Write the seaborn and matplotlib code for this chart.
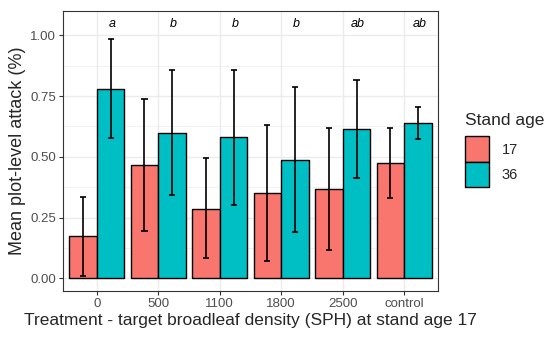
import numpy as np
import pandas as pd
import matplotlib
matplotlib.use("Agg")
import matplotlib.pyplot as plt
import matplotlib.patches as mpatches
import seaborn as sns

# Data
treatments = ["0", "500", "1100", "1800", "2500", "control"]
ages = ["17", "36"]
mean_17 = [0.173, 0.466, 0.287, 0.352, 0.367, 0.473]
mean_36 = [0.779, 0.598, 0.580, 0.488, 0.613, 0.638]
lo_17 = [0.008, 0.194, 0.082, 0.071, 0.117, 0.329]
hi_17 = [0.335, 0.738, 0.494, 0.631, 0.620, 0.617]
lo_36 = [0.576, 0.341, 0.302, 0.192, 0.411, 0.573]
hi_36 = [0.983, 0.856, 0.856, 0.786, 0.815, 0.704]
letters = ["a", "b", "b", "b", "ab", "ab"]

colors = {"17": "#F8766D", "36": "#00BFC4"}

df = pd.DataFrame({
    "treatment": treatments * 2,
    "age": ["17"] * 6 + ["36"] * 6,
    "attack": mean_17 + mean_36,
})

sns.set_theme(style="white")
plt.rcParams["font.family"] = ["Liberation Sans", "DejaVu Sans"]

fig, ax = plt.subplots(figsize=(5.5, 3.37), dpi=100)
fig.subplots_adjust(left=63 / 550, right=438 / 550, top=1 - 11 / 337, bottom=1 - 291 / 337)

sns.barplot(data=df, x="treatment", y="attack", hue="age", order=treatments,
            hue_order=ages, palette=colors, saturation=1, width=0.9, edgecolor="black",
            linewidth=1.0, errorbar=None, legend=False, ax=ax)

# grid like theme_bw
ax.set_axisbelow(True)
ax.set_yticks([0.125, 0.375, 0.625, 0.875, 1.125], minor=True)
ax.yaxis.grid(True, which="major", color="#EBEBEB", lw=1.0)
ax.yaxis.grid(True, which="minor", color="#EBEBEB", lw=0.5)
ax.xaxis.grid(True, which="major", color="#EBEBEB", lw=1.0)

for cont, lo, hi in zip(ax.containers, [lo_17, lo_36], [hi_17, hi_36]):
    xs = [b.get_x() + b.get_width() / 2 for b in cont]
    ax.vlines(xs, lo, hi, color="black", lw=1.2, zorder=4)
    for x, l, h in zip(xs, lo, hi):
        ax.hlines([l, h], x - 0.05, x + 0.05, color="black", lw=1.2, zorder=4)

for i, lab in enumerate(letters):
    ax.text(i + 0.25, 1.048, lab, style="italic", ha="center", va="center",
            fontsize=9, color="black")

ax.set_xlim(-0.55, 5.55)
ax.set_ylim(-0.0525, 1.1)
ax.set_yticks([0, 0.25, 0.5, 0.75, 1.0])
ax.set_yticklabels(["0.00", "0.25", "0.50", "0.75", "1.00"])
ax.tick_params(axis="both", which="major", length=3, width=0.8, color="#333333",
               labelsize=9.5, labelcolor="#4D4D4D", pad=2, left=True, bottom=True)
ax.tick_params(which="minor", length=0)
for s in ax.spines.values():
    s.set_color("#333333")
    s.set_linewidth(0.8)

ax.set_xlabel("Treatment - target broadleaf density (SPH) at stand age 17", fontsize=12.5, labelpad=2)
ax.set_ylabel("Mean plot-level attack (%)", fontsize=13, labelpad=3)

handles = [mpatches.Patch(facecolor=colors[a], edgecolor="black", lw=1.0, label=a) for a in ages]
leg = fig.legend(handles=handles, title="Stand age", loc="upper left",
                 bbox_to_anchor=(465 / 550, 1 - 113 / 337), frameon=False,
                 fontsize=10.5, title_fontsize=12.5, handlelength=1.65, handleheight=2.3,
                 labelspacing=0.0, handletextpad=0.85, borderaxespad=0, borderpad=0)
leg._legend_box.align = "left"
leg._legend_box.sep = 6

fig.savefig("out.png", dpi=100)
